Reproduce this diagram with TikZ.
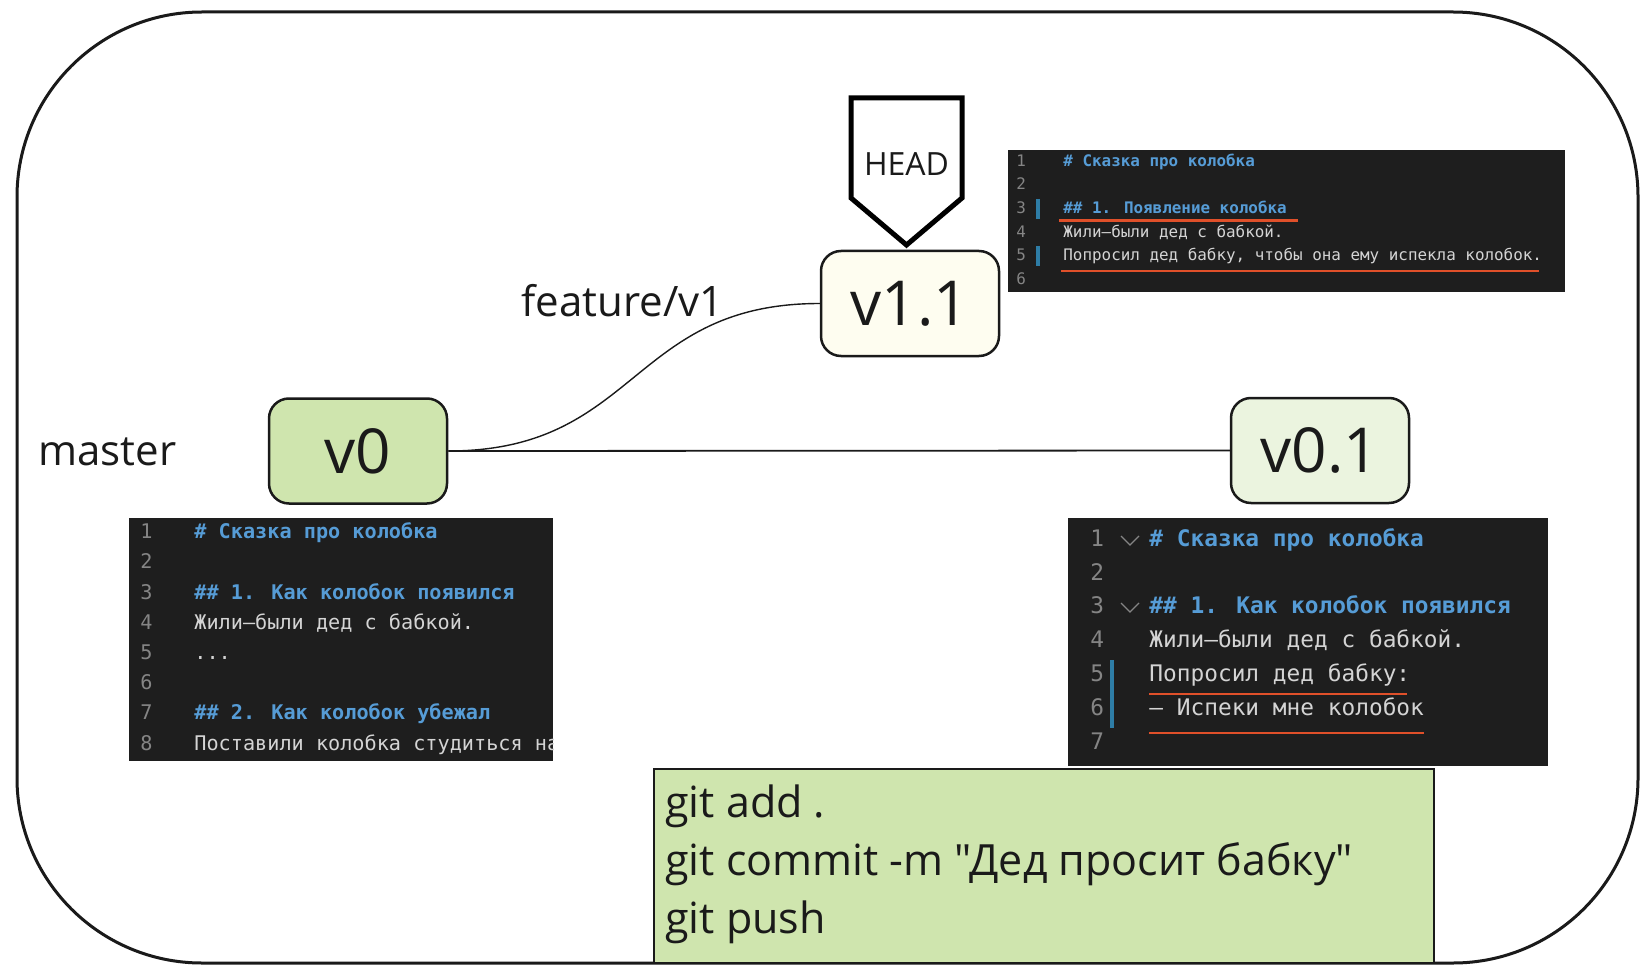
\documentclass[tikz,border=0pt]{standalone}
\usepackage{fontspec}
\setmainfont{Open Sans}[Ligatures=TeXOff]
\newfontfamily\codefont{DejaVu Sans Mono}
\definecolor{panelbg}{HTML}{1E1E1E}
\definecolor{codeblue}{HTML}{569CD6}
\definecolor{codetext}{HTML}{D4D4D4}
\definecolor{codenum}{HTML}{858585}
\definecolor{redline}{HTML}{E0502A}
\definecolor{gutter}{HTML}{2E7DA6}
\definecolor{greenA}{HTML}{CFE5AE}
\definecolor{ivory}{HTML}{FEFDF0}
\definecolor{greenB}{HTML}{EBF4DF}
\definecolor{ink}{HTML}{1A1A1A}
\tikzset{
  commit/.style={draw=ink, line width=1.25pt, rounded corners=10pt,
    minimum width=89pt, minimum height=52.5pt, inner sep=0pt,
    font=\fontsize{31}{31}\selectfont, text=ink},
  lbl/.style={anchor=base west, inner sep=0pt, font=\fontsize{21}{21}\selectfont, text=ink},
  codeS/.style={anchor=west, inner sep=0pt, text height=6pt, text depth=1.6pt,
    font=\codefont\fontsize{7.95}{8}\selectfont, text=codetext},
  codeM/.style={anchor=west, inner sep=0pt, text height=7.6pt, text depth=2pt,
    font=\codefont\fontsize{10.1}{10}\selectfont, text=codetext},
  codeL/.style={anchor=west, inner sep=0pt, text height=8.6pt, text depth=2.3pt,
    font=\codefont\fontsize{11.4}{11}\selectfont, text=codetext},
  num/.style={text=codenum},
  hd/.style={text=codeblue},
  gitline/.style={anchor=base west, inner sep=0pt, font=\fontsize{21.5}{21.5}\selectfont, text=ink},
  uline/.style={draw=redline, line width=1.4pt},
  gbar/.style={draw=gutter, line width=1.6pt},
  chev/.style={draw=codenum, line width=0.6pt},
}
\begin{document}
\begin{tikzpicture}[x=0.5pt,y=-0.5pt]
\useasboundingbox (0,0) rectangle (1652,978);
\fill[white] (0,0) rectangle (1652,978);

% outer frame
\draw[ink, line width=1.5pt, rounded corners=92.5pt] (17,12) rectangle (1638,963);

% commit nodes
\node[commit, fill=greenA] (v0) at (358,451) {v0};
\node[commit, fill=ivory] (v11) at (910,303.5) {v1.1};
\node[commit, fill=greenB] (v01) at (1320,450.5) {v0.1};

% connectors
\draw[ink, line width=0.9pt] (v0.east) -- (v01.west);
\draw[ink, line width=0.7pt] (v0.east) .. controls +(190,0) and +(-190,0) .. (v11.west);

% labels
\node[lbl] (master) at (38,465) {master};
\node[lbl] (feat) at (521,317) {feature/v1};

% HEAD pointer
\draw[black, line width=2.5pt, line join=miter] (851,98) -- (962,98) -- (962,198) -- (906.5,245) -- (851,198) -- cycle;
\node[inner sep=0pt, font=\fontsize{16}{16}\selectfont, text=ink] (head) at (906.5,164) {HEAD};

% top-right code panel
\fill[panelbg] (1008,150) rectangle (1565,292);
\foreach \i [count=\n] in {162,185.6,209.2,232.8,256.4,280}
  \node[codeS, num] (tn\n) at (1016,\i) {\n};
\node[codeS, hd] (t1) at (1063,162) {\bfseries\# Сказка про колобка};
\node[codeS, hd] (t3) at (1063,209.2) {\bfseries\#\# 1. Появление колобка};
\node[codeS] (t4) at (1063,232.8) {Жили–были дед с бабкой.};
\node[codeS] (t5) at (1063,256.4) {Попросил дед бабку, чтобы она ему испекла колобок.};
\draw[gbar] (1038,199) -- (1038,219);
\draw[gbar] (1038,246) -- (1038,266);
\draw[uline] (1059,220.5) -- (1298,220.5);
\draw[uline] (1061,271) -- (1539,271);

% bottom-left code panel
\fill[panelbg] (129,518) rectangle (553,761);
\foreach \i [count=\n] in {533,563.2,593.4,623.6,653.8,684,714.2,744.4}
  \node[codeM, num] (ln\n) at (140,\i) {\n};
\begin{scope}
\clip (129,518) rectangle (553,761);
\node[codeM, hd] (l1) at (194,533) {\bfseries\# Сказка про колобка};
\node[codeM, hd] (l3) at (194,593.4) {\bfseries\#\# 1. Как колобок появился};
\node[codeM] (l4) at (194,623.6) {Жили–были дед с бабкой.};
\node[codeM] (l5) at (194,653.8) {...};
\node[codeM, hd] (l7) at (194,714.2) {\bfseries\#\# 2. Как колобок убежал};
\node[codeM] (l8) at (194,744.4) {Поставили колобка студиться на};
\end{scope}

% bottom-right code panel
\fill[panelbg] (1068,518) rectangle (1548,766);
\foreach \i [count=\n] in {540,573.8,607.6,641.4,675.2,709,742.8}
  \node[codeL, num] (rn\n) at (1090,\i) {\n};
\draw[chev] (1121,536) -- (1130,545) -- (1139,536);
\draw[chev] (1121,603) -- (1130,612) -- (1139,603);
\node[codeL, hd] (r1) at (1149,540) {\bfseries\# Сказка про колобка};
\node[codeL, hd] (r3) at (1149,607.6) {\bfseries\#\# 1. Как колобок появился};
\node[codeL] (r4) at (1149,641.4) {Жили–были дед с бабкой.};
\node[codeL] (r5) at (1149,675.2) {Попросил дед бабку:};
\node[codeL] (r6) at (1149,709) {– Испеки мне колобок};
\draw[gbar] (1112,660) -- (1112,728);
\draw[uline] (1149,694) -- (1407,694);
\draw[uline] (1149,733) -- (1424,733);

% git commands box
\draw[fill=greenA, draw=ink, line width=1.25pt] (654,769) rectangle (1434,963);
\node[gitline] (g1) at (665,817) {git add .};
\node[gitline] (g2) at (665,875) {git commit -m "Дед просит бабку"};
\node[gitline] (g3) at (665,933) {git push};
\end{tikzpicture}
\end{document}
